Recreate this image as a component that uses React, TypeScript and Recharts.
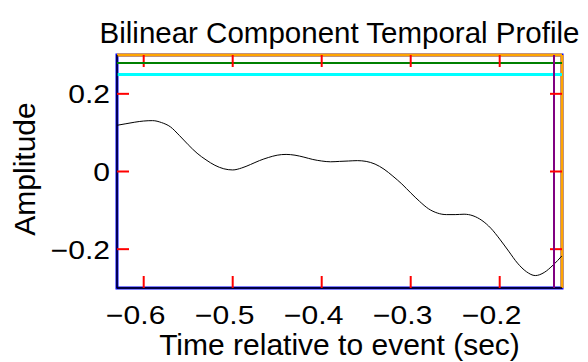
import React from 'react';
import { LineChart, Line, XAxis, YAxis, Label, ReferenceArea, ReferenceLine } from 'recharts';

const times = [
  -0.63, -0.62, -0.61, -0.60, -0.59, -0.58, -0.57, -0.56, -0.55, -0.54, -0.53, -0.52, -0.51,
  -0.50, -0.49, -0.48, -0.47, -0.46, -0.45, -0.44, -0.43, -0.42, -0.41, -0.40, -0.39, -0.38,
  -0.37, -0.36, -0.35, -0.34, -0.33, -0.32, -0.31, -0.30, -0.29, -0.28, -0.27, -0.26, -0.25,
  -0.24, -0.23, -0.22, -0.21, -0.20, -0.19, -0.18, -0.17, -0.16, -0.15, -0.14, -0.13,
];
const amplitudes = [
  0.119, 0.123, 0.127, 0.130, 0.131, 0.126, 0.115, 0.093, 0.069, 0.047, 0.030, 0.016, 0.007,
  0.004, 0.009, 0.018, 0.028, 0.036, 0.042, 0.044, 0.042, 0.037, 0.031, 0.027, 0.025, 0.026,
  0.027, 0.028, 0.026, 0.019, 0.006, -0.012, -0.032, -0.055, -0.077, -0.096, -0.107, -0.111, -0.111,
  -0.110, -0.114, -0.126, -0.146, -0.174, -0.205, -0.236, -0.258, -0.268, -0.260, -0.241, -0.217,
];
const xTicks = [-0.6, -0.5, -0.4, -0.3, -0.2];
const yTicks = [-0.2, 0, 0.2];
const xDomain = [-0.63, -0.13];
const yDomain = [-0.3, 0.3];
const titleText = 'Bilinear Component Temporal Profile';
const xLabelText = 'Time relative to event (sec)';
const yLabelText = 'Amplitude';

const data = times.map((t, i) => ({ t, a: amplitudes[i] }));

const FONT = '"Liberation Sans", Arial, Helvetica, sans-serif';
const CHART_W = 588;
const CHART_H = 362;
const MARGIN = { top: 55, right: 26, left: 0, bottom: 0 };
const Y_AXIS_W = 117;
const X_AXIS_H = 74;
const PLOT_W = CHART_W - MARGIN.left - MARGIN.right - Y_AXIS_W;
const PLOT_H = CHART_H - MARGIN.top - MARGIN.bottom - X_AXIS_H;
const TICK_LEN = 5;
const TICK_FONT = 25.5;
const TICK_STRETCH = 1.18;

const fmt = (v: number) => (v < 0 ? '\u2212' + String(Math.abs(v)) : String(v));

const BottomTick = (props: any) => {
  const { x, y, payload, index } = props;
  return (
    <g>
      <line x1={x} y1={y} x2={x} y2={y - 12} stroke="red" strokeWidth={2} />
      <line x1={x} y1={y - PLOT_H} x2={x} y2={y - PLOT_H + 12} stroke="red" strokeWidth={2} />
      {index === 0 ? (
        <line x1={117} y1={y - PLOT_H + 8} x2={117 + PLOT_W} y2={y - PLOT_H + 8} stroke="green" strokeWidth={2} />
      ) : null}
      <text
        transform={`translate(${x - 8},${y + 35.5}) scale(${TICK_STRETCH},1)`}
        textAnchor="middle"
        fontFamily={FONT}
        fontSize={TICK_FONT}
        fill="#000"
      >
        {fmt(payload.value)}
      </text>
    </g>
  );
};
const LeftTick = (props: any) => {
  const { x, y, payload, index } = props;
  return (
    <g>
      <line x1={x} y1={y} x2={x + 12} y2={y} stroke="red" strokeWidth={2} />
      <line x1={x + PLOT_W} y1={y} x2={x + PLOT_W - 12} y2={y} stroke="red" strokeWidth={2} />
      {index === 0 ? (
        <line x1={x + PLOT_W - 8} y1={55} x2={x + PLOT_W - 8} y2={55 + PLOT_H} stroke="purple" strokeWidth={2} />
      ) : null}
      <text
        transform={`translate(${x - 7},${y + 9.5}) scale(${TICK_STRETCH},1)`}
        textAnchor="end"
        fontFamily={FONT}
        fontSize={TICK_FONT}
        fill="#000"
      >
        {fmt(payload.value)}
      </text>
    </g>
  );
};

const XLabel = () => (
  <text x={339.5} y={355} textAnchor="middle" fontFamily={FONT} fontSize={30} fill="#000">
    {xLabelText}
  </text>
);
const YLabel = () => (
  <text
    x={35}
    y={169}
    transform="rotate(-90 35 169)"
    textAnchor="middle"
    fontFamily={FONT}
    fontSize={30}
    fill="#000"
  >
    {yLabelText}
  </text>
);

export default function App() {
  return (
    <div
      style={{
        position: 'absolute',
        left: 0,
        top: 0,
        width: CHART_W,
        height: CHART_H,
        background: '#fff',
      }}
    >
      <div
        style={{
          position: 'absolute',
          left: 339.5,
          top: 18,
          transform: 'translateX(-50%)',
          fontFamily: FONT,
          fontSize: 29.5,
          lineHeight: '30px',
          whiteSpace: 'nowrap',
          color: '#000',
        }}
      >
        {titleText}
      </div>
      <LineChart width={CHART_W} height={CHART_H} data={data} margin={MARGIN}>
        <XAxis
          dataKey="t"
          type="number"
          domain={xDomain}
          ticks={xTicks}
          allowDataOverflow
          height={X_AXIS_H}
          tickSize={0}
          tickMargin={0}
          tickLine={false}
          axisLine={{ stroke: '#000', strokeWidth: 1.3 }}
          tick={<BottomTick />}
          interval={0}
        >
          <Label content={<XLabel />} />
        </XAxis>
        <YAxis
          type="number"
          domain={yDomain}
          ticks={yTicks}
          allowDataOverflow
          width={Y_AXIS_W}
          tickSize={0}
          tickMargin={0}
          tickLine={false}
          axisLine={{ stroke: '#000', strokeWidth: 1.3 }}
          tick={<LeftTick />}
          interval={0}
        >
          <Label content={<YLabel />} />
        </YAxis>
        <ReferenceArea
          x1={xDomain[0]}
          x2={xDomain[1]}
          y1={yDomain[0]}
          y2={yDomain[1]}
          fill="none"
          stroke="blue"
          strokeWidth={3}
          ifOverflow="visible"
        />
        <ReferenceLine x={xDomain[1]} stroke="orange" strokeWidth={3} ifOverflow="visible" />
        <ReferenceLine y={yDomain[1]} stroke="orange" strokeWidth={3} ifOverflow="visible" />
        <ReferenceLine y={0.25} stroke="cyan" strokeWidth={3} ifOverflow="visible" />
        <Line
          type="monotone"
          dataKey="a"
          stroke="#000"
          strokeWidth={1}
          dot={false}
          isAnimationActive={false}
        />
      </LineChart>
    </div>
  );
}
